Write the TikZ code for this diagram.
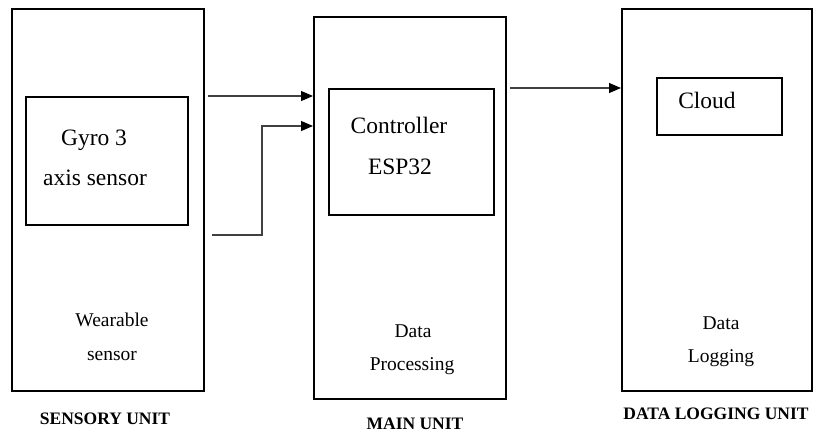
\documentclass[tikz,border=0pt]{standalone}
\usepackage{fontspec}
\setmainfont{Liberation Serif}
\usetikzlibrary{arrows.meta}
\begin{document}
\begin{tikzpicture}[x=1pt,y=-1pt,
  box/.style={draw, line width=1.8pt, inner sep=0pt, anchor=north west},
  inlab/.style={font=\fontsize{23.5}{28}\selectfont, inner sep=0pt, anchor=base},
  lowlab/.style={font=\fontsize{19.5}{24}\selectfont, inner sep=0pt, anchor=base},
  unitlab/.style={font=\fontsize{17.5}{21}\selectfont\bfseries, inner sep=0pt, anchor=base},
  conn/.style={line width=1.1pt, black!75, -{Triangle[length=12pt,width=10pt,fill=black,color=black]}}]
\useasboundingbox (0,0) rectangle (813,432);
% outer unit boxes
\node[box, minimum width=192pt, minimum height=382pt] (sens) at (11,8) {};
\node[box, minimum width=192pt, minimum height=382pt] (main) at (313,16) {};
\node[box, minimum width=190pt, minimum height=382pt] (log) at (621,8) {};
% inner boxes
\node[box, minimum width=162pt, minimum height=128pt] (gyro) at (25,96) {};
\node[box, minimum width=165pt, minimum height=126pt] (ctrl) at (328,88) {};
\node[box, minimum width=125pt, minimum height=57pt] (cloud) at (656,77) {};
% inner texts
\node[inlab] (t1) at (94,145) {Gyro 3};
\node[inlab] (t2) at (95,185) {axis sensor};
\node[inlab] (t3) at (399,133) {Controller};
\node[inlab] (t4) at (400,174) {ESP32};
\node[inlab] (t5) at (707,108) {Cloud};
% lower texts
\node[lowlab] (w1) at (112,326) {Wearable};
\node[lowlab] (w2) at (112,360) {sensor};
\node[lowlab] (p1) at (413,337) {Data};
\node[lowlab] (p2) at (412,370) {Processing};
\node[lowlab] (l1) at (721,329) {Data};
\node[lowlab] (l2) at (721,362) {Logging};
% unit labels
\node[unitlab] (u1) at (105,424) {SENSORY UNIT};
\node[unitlab] (u2) at (415,429) {MAIN UNIT};
\node[unitlab] (u3) at (716,419) {DATA LOGGING UNIT};
% connectors
\coordinate (a1) at (208,96);
\coordinate (a2) at (212,235);
\coordinate (a2b) at (262,126);
\coordinate (a3) at (510,88);
\draw[conn] (a1) -- (a1 -| main.west);
\draw[conn] (a2) -| (a2b) -- (a2b -| main.west);
\draw[conn] (a3) -- (a3 -| log.west);
\end{tikzpicture}
\end{document}
